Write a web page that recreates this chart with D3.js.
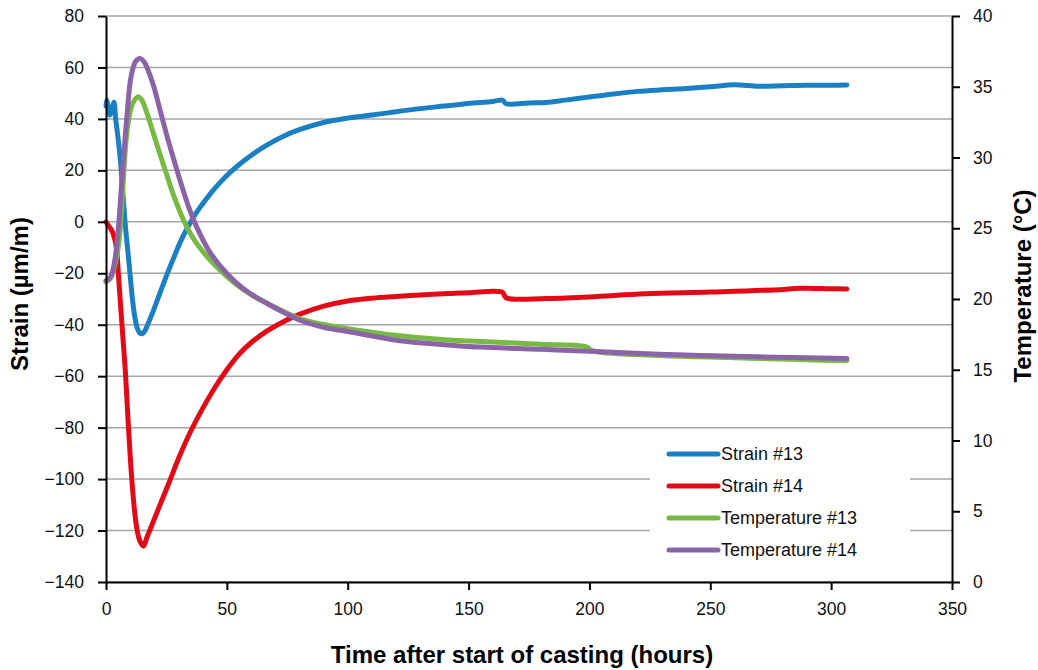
<!DOCTYPE html>
<meta charset="utf-8">
<head>
<script src="https://d3js.org/d3.v7.min.js"></script>
<style>
body { margin: 0; background: #fff; }
text { font-family: "Liberation Sans", Arial, sans-serif; }
</style>
</head>
<body>
<script>
// chart values: [hours, value]
strain13 = [[0,45],[0.3,47.3],[1.6,41.5],[2.5,44],[3.3,46.5],[4,40],[5,32.5],[6,23.5],[7,11],[8,-1.5],[9,-11],[10,-21],[11,-30.5],[12,-37.5],[13,-41.5],[14,-43.2],[15,-43.5],[16,-42.5],[17,-40.5],[19,-36],[22,-28.5],[25,-21],[28,-14],[31,-7.3],[34,-1.8],[37,3],[40,7],[45,13],[50,18],[55,22.2],[60,25.8],[66.5,29.8],[73,33.1],[80,35.8],[90,38.6],[100,40.3],[110,41.5],[120,42.8],[130,44],[140,45],[150,46],[160,46.8],[164,47.3],[165.5,45.9],[175,46.2],[182,46.4],[190,47.3],[200,48.5],[210,49.7],[220,50.7],[230,51.3],[240,51.8],[250,52.5],[260,53.3],[270,52.7],[280,52.9],[290,53.1],[300,53.1],[306.5,53.2]]

strain14 = [[0,0],[1,-1.5],[2.3,-3.2],[3.7,-7],[4.5,-12],[5.1,-20],[6,-32],[7,-45],[8,-58],[9,-75],[10,-91],[11,-104],[12,-114],[13,-120.5],[14,-124],[15.5,-126],[17,-122.5],[20,-115.5],[23,-108.5],[26.5,-100.4],[30,-92],[35,-81.5],[40,-72.5],[45,-64.5],[50,-57.5],[55,-51.5],[60,-47],[66.5,-42.5],[73,-39],[80,-36],[90,-32.8],[100,-30.8],[110,-29.7],[120,-29],[130,-28.4],[142,-27.9],[150,-27.6],[164,-27.4],[165.5,-29.5],[182,-29.8],[200,-29.2],[223,-28],[250,-27.3],[280,-26.3],[287,-25.8],[300,-26],[306.5,-26.1]]

temp13 = [[0,21.2],[2,21.5],[3.7,22.4],[5,23.6],[6,25.2],[7.2,28.5],[8.2,31],[9.2,32.5],[10.5,33.6],[12,34.1],[13.4,34.3],[15,34],[17,33.1],[19.6,31.7],[22,30.4],[25.1,28.8],[28,27.3],[32,25.6],[35,24.6],[38.9,23.6],[45,22.4],[52.7,21.2],[60,20.3],[66.5,19.7],[75,19],[80.3,18.6],[90,18.2],[100,17.9],[121.6,17.4],[142,17.1],[155,17],[180,16.8],[199,16.6],[201,16.35],[229,16],[260,15.85],[290,15.7],[306.5,15.65]]

temp14 = [[0,21.3],[2,21.6],[3.7,22.8],[5,24.8],[5.8,26.5],[6.8,29],[7.9,31.4],[9,33.6],[9.9,35.2],[11,36.2],[12.3,36.8],[14.1,37],[16,36.7],[17.8,36],[19.6,35.1],[22.3,33.4],[25.1,31.6],[27.8,30],[30.6,28.4],[34,26.6],[37.5,25.1],[43,23.3],[50,21.8],[57,20.7],[66.5,19.7],[73,19.1],[80.3,18.5],[90,18],[100,17.7],[121.6,17.05],[142,16.75],[155,16.6],[180,16.45],[200,16.3],[229,16.1],[260,15.95],[290,15.85],[306.5,15.8]]

xTicks = [0, 50, 100, 150, 200, 250, 300, 350]
strainTicks = [80, 60, 40, 20, 0, -20, -40, -60, -80, -100, -120, -140]
tempTicks = [0, 5, 10, 15, 20, 25, 30, 35, 40]

series = [
  {name: "Strain #13", data: strain13, axis: "left", color: "#1b80c3"},
  {name: "Strain #14", data: strain14, axis: "left", color: "#e30a17"},
  {name: "Temperature #13", data: temp13, axis: "right", color: "#78b943"},
  {name: "Temperature #14", data: temp14, axis: "right", color: "#8b64a8"}
]

width = 1038
height = 670
margin = ({top: 16, right: 86, bottom: 88, left: 106})

x = d3.scaleLinear().domain([0, 350]).range([margin.left, width - margin.right])
yL = d3.scaleLinear().domain([-140, 80]).range([height - margin.bottom, margin.top])
yR = d3.scaleLinear().domain([0, 40]).range([height - margin.bottom, margin.top])

svg = d3.select("body").append("svg")
  .attr("width", width)
  .attr("height", height)

// grid
svg.append("g")
  .selectAll("line")
  .data(strainTicks)
  .join("line")
    .attr("x1", margin.left)
    .attr("x2", width - margin.right)
    .attr("y1", d => yL(d))
    .attr("y2", d => yL(d))
    .attr("stroke", "#a6a6a6")
    .attr("stroke-width", 1.5)

// legend background hides the grid behind it
svg.append("rect")
  .attr("x", 650).attr("y", 438)
  .attr("width", 260).attr("height", 128)
  .attr("fill", "#fff")

// lines
svg.append("g")
  .attr("fill", "none")
  .attr("stroke-width", 5)
  .attr("stroke-linejoin", "round")
  .attr("stroke-linecap", "round")
  .selectAll("path")
  .data(series)
  .join("path")
    .attr("stroke", d => d.color)
    .attr("d", d => {
      var y = d.axis == "left" ? yL : yR
      return d3.line().curve(d3.curveCatmullRom.alpha(0.5))
        .x(p => x(p[0])).y(p => y(p[1]))(d.data)
    })

// axes
fmt = d => d < 0 ? "\u2212" + Math.abs(d) : "" + d

xAxis = g => g
  .attr("transform", `translate(0,${height - margin.bottom})`)
  .call(d3.axisBottom(x).tickValues(xTicks).tickSize(8).tickPadding(13).tickSizeOuter(0))

leftAxis = g => g
  .attr("transform", `translate(${margin.left},0)`)
  .call(d3.axisLeft(yL).tickValues(strainTicks).tickFormat(fmt).tickSize(8).tickPadding(14).tickSizeOuter(0))

rightAxis = g => g
  .attr("transform", `translate(${width - margin.right},0)`)
  .call(d3.axisRight(yR).tickValues(tempTicks).tickSize(8).tickPadding(13).tickSizeOuter(0))

;[xAxis, leftAxis, rightAxis].forEach(a => {
  svg.append("g").call(a)
    .call(g => g.selectAll("text").attr("font-size", 17.5).attr("fill", "#111")
      .attr("font-family", "Liberation Sans, Arial, sans-serif"))
    .call(g => g.selectAll("line, path").attr("stroke", "#000").attr("stroke-width", 2))
})

// axis titles
svg.append("text")
  .attr("x", 522)
  .attr("y", 663)
  .attr("text-anchor", "middle")
  .attr("font-weight", "bold")
  .attr("font-size", 24)
  .text("Time after start of casting (hours)")

svg.append("text")
  .attr("transform", "translate(28,294) rotate(-90)")
  .attr("text-anchor", "middle")
  .attr("font-weight", "bold")
  .attr("font-size", 24)
  .text("Strain (\u00b5m/m)")

svg.append("text")
  .attr("transform", "translate(1031,286) rotate(-90)")
  .attr("text-anchor", "middle")
  .attr("font-weight", "bold")
  .attr("font-size", 24)
  .text("Temperature (\u00b0C)")

// legend
var legend = svg.append("g")
  .selectAll("g")
  .data(series)
  .join("g")
    .attr("transform", (d, i) => `translate(0,${454 + i * 32})`)

legend.append("line")
  .attr("x1", 669).attr("x2", 718)
  .attr("stroke", d => d.color)
  .attr("stroke-width", 5)
  .attr("stroke-linecap", "round")

legend.append("text")
  .attr("x", 721)
  .attr("y", 0)
  .attr("dy", "0.35em")
  .attr("font-size", 18)
  .attr("fill", "#111")
  .text(d => d.name)
</script>
</body>
